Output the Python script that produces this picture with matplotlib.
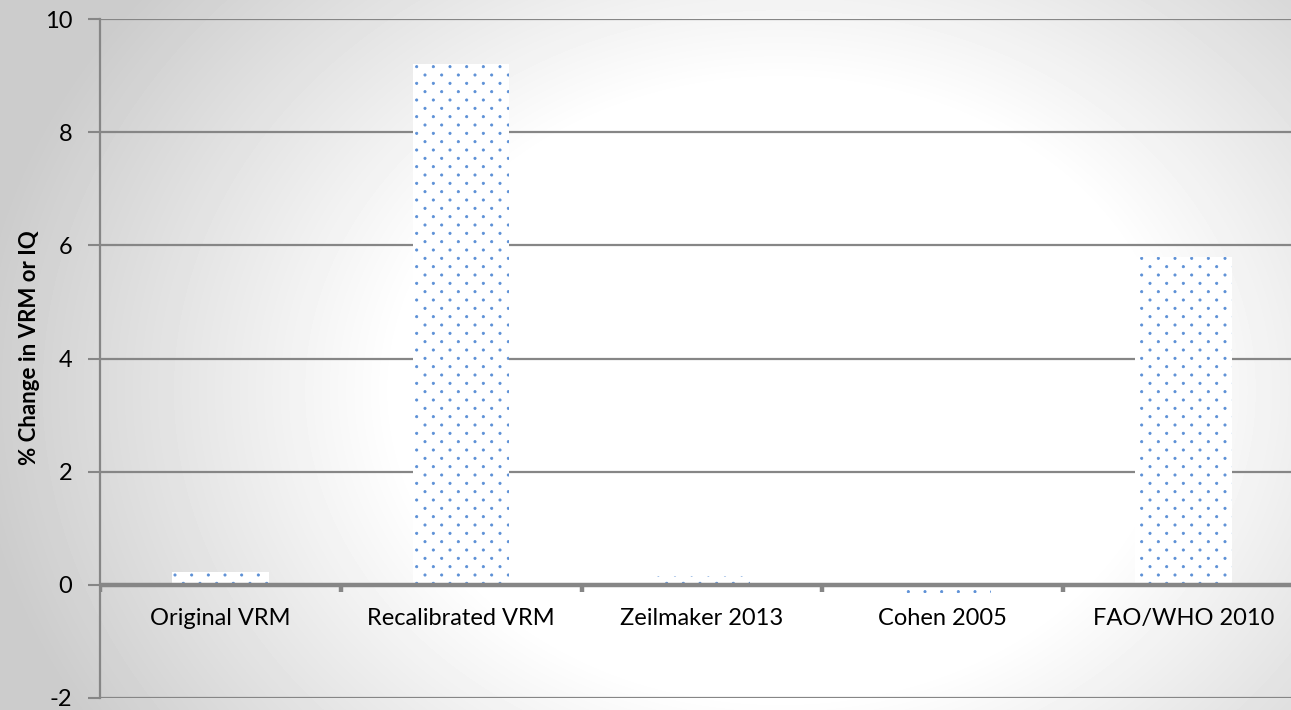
import numpy as np
import matplotlib
matplotlib.use("Agg")
import matplotlib.pyplot as plt
import matplotlib.hatch as mhatch
from matplotlib.path import Path

plt.rcParams["font.family"] = ["Lato", "DejaVu Sans"]
plt.rcParams["hatch.linewidth"] = 0.6

categories = ["Original VRM", "Recalibrated VRM", "Zeilmaker 2013", "Cohen 2005", "FAO/WHO 2010"]
values = [0.23, 9.2, 0.15, -0.14, 5.8]
y_ticks = [-2, 0, 2, 4, 6, 8, 10]


class DottedFill(mhatch.HatchPatternBase):
    # staggered small dots, like the Office "5%" pattern fill
    def __init__(self, hatch, density):
        circle = Path.unit_circle()
        self.circle_v = circle.vertices * 0.011
        self.circle_c = circle.codes
        self.pts = []
        if hatch.count("."):
            for row in range(13):
                if row % 2 == 0:
                    cols = np.linspace(0, 1, 7)
                else:
                    cols = np.linspace(1 / 12, 11 / 12, 6)
                self.pts += [(c, row / 12) for c in cols]
        self.num_vertices = len(self.pts) * len(self.circle_v)

    def set_vertices_and_codes(self, vertices, codes):
        n = len(self.circle_v)
        for k, (cx, cy) in enumerate(self.pts):
            vertices[k * n:(k + 1) * n] = self.circle_v + (cx, cy)
            codes[k * n:(k + 1) * n] = self.circle_c


i_dot = mhatch._hatch_types.index(mhatch.SmallFilledCircles)
mhatch._hatch_types[i_dot] = DottedFill

W, H = 1291, 710
fig = plt.figure(figsize=(W / 100, H / 100), dpi=100)

# radial grey-to-white background
bg = fig.add_axes([0, 0, 1, 1], zorder=-10)
yy, xx = np.mgrid[0:H, 0:W]
r = np.sqrt(((xx - 780) / 700.0) ** 2 + ((yy - 390) / 560.0) ** 2)
shade = np.clip(1.0 - 0.20 * np.clip(r - 0.55, 0, None) / 0.6, 0.80, 1.0)
bg.imshow(shade, cmap="gray", vmin=0, vmax=1, aspect="auto", extent=[0, 1, 0, 1])
bg.axis("off")

ax = fig.add_axes([100 / W, 1 - 698 / H, 1203.75 / W, 679 / H])
ax.patch.set_alpha(0)

x = np.arange(len(categories))
ax.bar(x, values, width=0.4, color="white", edgecolor="#5b8fd6", linewidth=0, hatch=".", zorder=3)

ax.set_xlim(-0.5, len(categories) - 0.5)
ax.set_ylim(-2, 10)
ax.set_yticks(y_ticks)
ax.set_yticklabels([str(t) for t in y_ticks], fontsize=17)
ax.tick_params(axis="y", length=9, width=1.5, color="#868686", pad=11)
ax.set_xticks([])

for t in y_ticks:
    if t != 0:
        ax.axhline(t, color="#868686", lw=1.6, zorder=1)
ax.axhline(0, color="#868686", lw=3.2, zorder=4)
ax.vlines(np.arange(len(categories)) - 0.5, -0.12, 0, color="#868686", lw=3.2, zorder=4)

for s in ["top", "right", "bottom"]:
    ax.spines[s].set_visible(False)
ax.spines["left"].set_color("#868686")
ax.spines["left"].set_linewidth(1.6)

for i, c in enumerate(categories):
    ax.text(i, -0.6, c, ha="center", va="center", fontsize=17, color="black")

fig.text(30 / W, 1 - 348 / H, "% Change in VRM or IQ", rotation=90,
         ha="center", va="center", fontsize=16, fontweight="bold")

fig.savefig("out.png", dpi=100)
